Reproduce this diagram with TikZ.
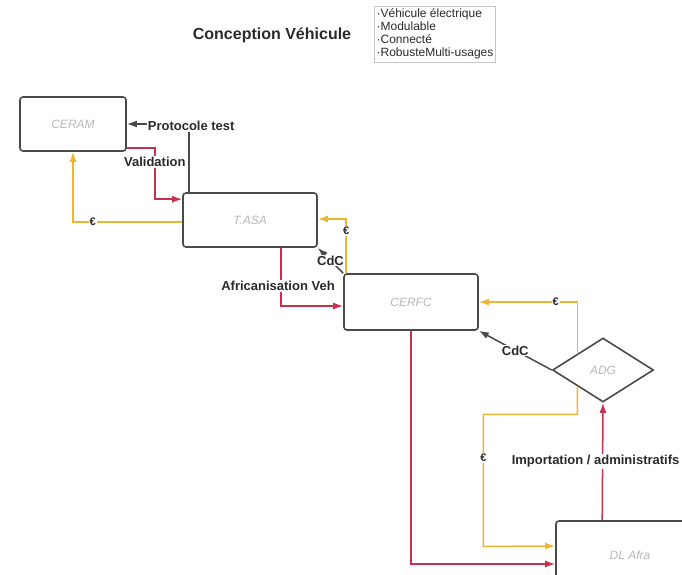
\documentclass[tikz,border=0pt]{standalone}
\usepackage{fontspec}
\setmainfont{Liberation Sans}
\usetikzlibrary{arrows.meta,shapes.geometric,calc}
\definecolor{cred}{HTML}{C8304E}
\definecolor{cyel}{HTML}{EDB532}
\definecolor{cgry}{HTML}{4A4A4A}
\definecolor{ctxt}{HTML}{2A2A2A}
\begin{document}
\begin{tikzpicture}[x=1pt,y=-1pt,
  box/.style={draw=cgry, line width=1.6pt, rounded corners=3pt, fill=white,
    font=\fontsize{12}{14}\selectfont\itshape, text=gray!55, inner sep=0pt},
  dia/.style={diamond, draw=cgry, line width=1.6pt, fill=white, inner sep=0pt,
    minimum width=101pt, minimum height=64pt,
    font=\fontsize{12}{14}\selectfont\itshape, text=gray!55},
  conn/.style={line width=1.5pt, -{Latex[length=10pt,width=7pt]}},
  rarrow/.style={conn, draw=cred},
  yarrow/.style={conn, draw=cyel},
  garrow/.style={conn, draw=cgry},
  lbl/.style={font=\fontsize{13}{15}\selectfont\bfseries, text=ctxt, fill=white, inner sep=1pt},
  eur/.style={font=\fontsize{11}{13}\selectfont\bfseries, text=ctxt, fill=white, inner sep=1pt}
]
\useasboundingbox (0,0) rectangle (682,574);
\clip (0,0) rectangle (682,574);

\node[font=\fontsize{16}{18}\selectfont\bfseries, text=ctxt] (title) at (272,35) {Conception Véhicule};
\node[draw=gray!45, line width=0.5pt, align=left, inner xsep=2pt, inner ysep=3pt,
      font=\fontsize{12}{13}\selectfont, text=ctxt] (list) at (435,34)
  {·Véhicule électrique\\·Modulable\\·Connecté\\·RobusteMulti-usages};

\node[box, minimum width=106pt, minimum height=54pt] (A) at (73,124) {CERAM};
\node[box, minimum width=134pt, minimum height=54pt] (B) at (250,220) {T.ASA};
\node[box, minimum width=134pt, minimum height=56pt] (C) at (411,302) {CERFC};
\node[dia] (D) at (603,370) {ADG};
\node[box, minimum width=148pt, minimum height=68pt] (E) at (630,555) {DL Afra};

% Protocole test
\draw[garrow] ($(B.north west)+(7,0)$) |- (A.east)
  node[pos=0.5, lbl, xshift=2pt, yshift=-2pt] {Protocole test};
% Validation
\draw[rarrow] ($(A.south east)+(0,-4)$) -- ++(28,0) |- ($(B.north west)+(0,7)$)
  node[pos=0.14, lbl] {Validation};
% euro B -> A
\draw[yarrow] ($(B.west)+(0,2)$) -| (A.south) node[pos=0.41, eur] {€};
% euro C -> B
\draw[yarrow] ($(C.north west)+(3,0)$) |- ($(B.east)+(0,-1)$) node[pos=0.39, eur] {€};
% CdC C -> B
\draw[garrow] (C.north west) -- (B.south east) node[midway, lbl] {CdC};
% Africanisation Veh
\draw[rarrow] ($(B.south)+(31,0)$) |- ($(C.west)+(0,4)$)
  node[pos=0.33, lbl, xshift=-3pt] {Africanisation Veh};
% euro D -> C
\draw[yarrow] (D.north west) |- (C.east) node[pos=0.61, eur] {€};
% CdC D -> C
\draw[garrow] (D.west) -- (C.south east) node[midway, lbl] {CdC};
% euro D -> E
\draw[yarrow] (D.south west) -- ++(0,28) -- ++(-94,0) -- ++(0,132)
  node[pos=0.33, eur] {€} -- ($(E.west)+(0,-9)$);
% C -> E
\draw[rarrow] (C.south) |- ($(E.west)+(0,9)$);
% Importation
\draw[rarrow] ($(E.north west)+(47,0)$) -- (D.south)
  node[midway, lbl, xshift=-7pt] {Importation / administratifs};
\end{tikzpicture}
\end{document}
